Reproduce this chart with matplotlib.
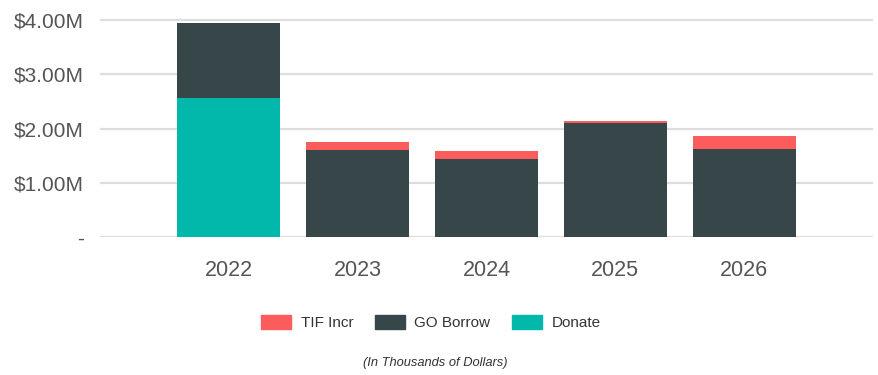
import matplotlib
matplotlib.use('Agg')
import matplotlib.pyplot as plt
from matplotlib.patches import Patch

plt.rcParams['font.family'] = ['Liberation Sans', 'DejaVu Sans']

years = ['2022', '2023', '2024', '2025', '2026']
donate = [2.57, 0, 0, 0, 0]
go_borrow = [1.38, 1.61, 1.44, 2.10, 1.62]
tif_incr = [0, 0.14, 0.14, 0.05, 0.25]

yticks = [0, 1, 2, 3, 4]
ytick_labels = ['-', '$1.00M', '$2.00M', '$3.00M', '$4.00M']

c_tif = '#FD5C5C'
c_go = '#374649'
c_don = '#01B8AA'

fig = plt.figure(figsize=(8.79, 3.75), dpi=100)
ax = fig.add_axes([0.114, 0.367, 0.879, 0.587])

x = list(range(len(years)))
w = 0.8
ax.bar(x, donate, w, color=c_don, zorder=3)
ax.bar(x, go_borrow, w, bottom=donate, color=c_go, zorder=3)
base2 = [d + g for d, g in zip(donate, go_borrow)]
ax.bar(x, tif_incr, w, bottom=base2, color=c_tif, zorder=3)

ax.set_xlim(-1, 5)
ax.set_ylim(0, 4.05)
ax.set_yticks(yticks)
ax.set_yticklabels(ytick_labels)
ax.set_xticks(x)
ax.set_xticklabels(years)
ax.tick_params(axis='y', length=0, pad=12, labelsize=15, labelcolor='#555555')
ax.tick_params(axis='x', length=0, pad=16, labelsize=15.5, labelcolor='#555555')
for s in ax.spines.values():
    s.set_visible(False)
ax.grid(axis='y', color='#DDDDDD', linewidth=1.6, zorder=0)

handles = [Patch(color=c_tif, label='TIF Incr'),
           Patch(color=c_go, label='GO Borrow'),
           Patch(color=c_don, label='Donate')]
fig.legend(handles=handles, loc='center', bbox_to_anchor=(0.490, 0.139),
           ncol=3, frameon=False, fontsize=11, handlelength=2.0, handleheight=0.95,
           handletextpad=0.6, columnspacing=1.4, labelcolor='#333333')

fig.text(0.495, 0.032, '(In Thousands of Dollars)', ha='center', va='center',
         fontsize=9.3, style='italic', color='#333333')

fig.savefig('out.png', dpi=100)
